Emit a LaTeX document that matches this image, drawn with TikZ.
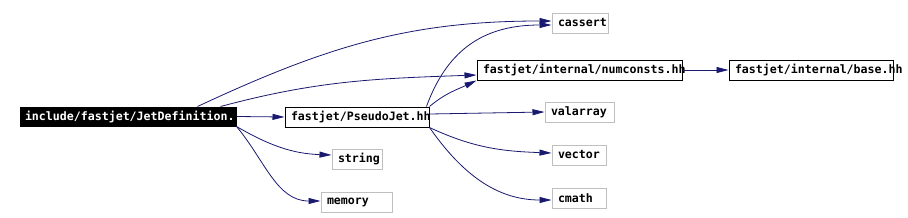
\documentclass[tikz,border=0pt]{standalone}
\usepackage{fontspec}
\setmonofont{DejaVu Sans Mono}
\usetikzlibrary{arrows.meta}
\definecolor{edgeblue}{RGB}{25,25,112}
\definecolor{sysgray}{RGB}{191,191,191}
\tikzset{
  hdr/.style={draw=black, line width=1pt, text width=#1, align=left, inner xsep=6pt, inner ysep=0pt, minimum height=20pt, font=\ttfamily\bfseries\fontsize{11.6}{13}\selectfont},
  syshdr/.style={hdr=#1, draw=sysgray},
  dep/.style={draw=edgeblue, line width=0.8pt, -{Triangle[length=12pt,width=6pt]}},
}

\begin{document}
\begin{tikzpicture}[x=1pt,y=1pt]
    \useasboundingbox (0,0) rectangle (908,-217);
    \node[hdr=206pt, inner xsep=5pt, minimum height=19pt, fill=black, text=white] (jet) at (128,-116.5) {include/fastjet/JetDefinition.};
    \node[hdr=132pt] (pseudo) at (357,-117) {fastjet/PseudoJet.hh};
    \node[syshdr=38pt] (string) at (357,-159) {string};
    \node[syshdr=59pt] (memory) at (356.5,-202) {memory};
    \node[syshdr=44pt] (cassert) at (580,-23) {cassert};
    \node[hdr=193pt] (numconsts) at (579.5,-70) {fastjet/internal/numconsts.hh};
    \node[hdr=152pt] (base) at (811,-70) {fastjet/internal/base.hh};
    \node[syshdr=57pt] (valarray) at (579.5,-112) {valarray};
    \node[syshdr=42pt] (vector) at (579,-155) {vector};
    \node[syshdr=42pt] (cmath) at (579,-198) {cmath};

    \draw[dep] (jet.east) -- (pseudo.west);
    \draw[dep] (jet.south east) to[out=-30,in=178] ([yshift=4pt]string.west);
    \draw[dep] (jet.south east) to[out=-50,in=180] ([yshift=1pt]memory.west);
    \draw[dep] ([xshift=-39pt]jet.north east) to[out=25,in=180] ([yshift=2pt]cassert.west);
    \draw[dep] ([xshift=-16pt]jet.north east) to[out=15,in=182] ([yshift=-5pt]numconsts.west);
    \draw[dep] ([xshift=-3pt]pseudo.north east) to[out=70,in=180,looseness=1.1] ([yshift=-2pt]cassert.west);
    \draw[dep] (pseudo.north east) to[out=40,in=205] (numconsts.south west);
    \draw[dep] ([yshift=3pt]pseudo.east) -- (valarray.west);
    \draw[dep] (pseudo.south east) to[out=-25,in=178] ([yshift=2pt]vector.west);
    \draw[dep] (pseudo.south east) to[out=-55,in=180] ([yshift=-2pt]cmath.west);
    \draw[dep] (numconsts.east) -- (base.west);
\end{tikzpicture}
\end{document}
